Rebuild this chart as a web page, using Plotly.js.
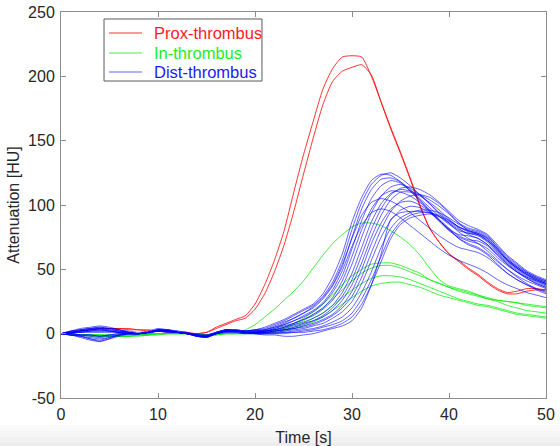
<!DOCTYPE html>
<html>
<head>
<meta charset="utf-8">
<script src="https://cdn.plot.ly/plotly-3.0.1.min.js"></script>
<style>html,body{margin:0;padding:0;background:#fff;}#chart{width:560px;height:446px;}</style>
</head>
<body>
<div id="chart"></div>
<script>
// Time axis (s)
const time = [0,1,2,3,4,5,6,7,8,9,10,11,12,13,14,15,16,17,18,19,20,21,22,23,24,25,26,27,28,29,30,31,32,33,34,35,36,37,38,39,40,41,42,43,44,45,46,47,48,49,50];

// Prox-thrombus (red)
const prox1 = [0,1,2,3,4,4,4,4,3,3,2,2,1,1,0,1,5,8,11,14,23,38,57,80,110,139,165,190,206,215,216,215,200,180,160,141,121,100,82,71,62,57,51,46,40,35,32,33,35,35,34];
const prox2 = [0,1,2,3,3,4,4,3,3,2,2,1,1,0,0,1,4,7,10,12,19,31,48,69,95,124,152,178,196,204,207,209,201,180,159,140,120,99,82,71,62,56,50,45,39,34,31,31,33,34,34];

// In-thrombus (green)
const in1 = [0,-1,-1,-1,-1,-1,-2,-2,-2,-1,-1,0,0,0,-1,-1,0,0,1,3,7,13,19,26,33,41,51,61,70,77,83,86,86,84,80,75,69,61,51,42,37,35,33,30,27,26,25,24,23,22,21];
const in2 = [0,-1,-1,-1,-2,-2,-2,-2,-1,-1,0,0,0,0,-1,-1,0,0,0,1,1,2,3,5,8,12,17,23,30,38,45,50,54,55,55,53,50,47,42,39,36,34,32,30,28,26,25,24,22,21,20];
const in3 = [0,-1,-1,-2,-2,-2,-2,-1,-1,-1,0,0,0,0,-1,-1,0,0,0,0,1,1,2,4,7,10,15,20,27,34,41,47,51,53,53,51,48,45,42,39,36,33,31,29,27,25,22,20,18,17,16];
const in4 = [0,0,-1,-1,-1,-2,-2,-2,-1,-1,0,0,0,0,-1,-1,-1,0,0,0,0,1,2,3,5,8,12,16,22,28,34,39,43,45,45,44,42,39,36,33,30,27,25,23,22,20,18,16,15,14,13];
const in5 = [0,-1,-1,-1,-1,-1,-1,-1,-1,0,0,0,0,0,0,-1,-1,0,0,0,0,0,1,2,4,6,9,13,18,23,28,33,37,39,40,40,38,36,33,30,28,26,24,22,21,19,17,15,14,13,12];

// Dist-thrombus (blue)
const dist1  = [0,2,4,5,6,5,3,1,0,1,3,3,1,0,-1,-1,1,3,3,2,3,5,8,11,15,19,23,31,44,62,87,106,119,124,123,118,111,103,95,87,80,75,72,70,66,59,53,48,44,41,38];
const dist2  = [0,1,3,4,5,4,3,1,0,1,2,3,2,1,-1,-2,0,2,3,2,3,4,7,10,14,18,22,29,40,57,81,102,116,123,125,121,115,108,101,94,88,83,80,78,74,66,58,52,47,43,40];
const dist3  = [0,-1,-3,-5,-6,-4,-1,0,0,1,3,2,1,0,-2,-2,1,3,2,1,2,3,6,9,12,16,20,27,37,52,75,97,112,120,121,118,112,105,98,91,85,80,78,76,71,63,56,50,45,41,38];
const dist4  = [0,2,3,4,4,4,3,2,1,2,4,3,1,0,0,-1,1,3,2,2,3,3,5,8,12,16,21,28,38,54,74,92,102,105,103,99,94,88,82,76,71,67,65,63,59,53,47,42,38,35,33];
const dist5  = [0,1,2,3,3,2,1,1,0,1,3,2,1,0,-2,-3,0,3,3,2,2,2,4,7,10,14,18,24,34,49,68,84,94,97,95,90,84,78,72,66,61,57,54,51,47,42,38,35,32,30,28];
const dist6  = [0,1,1,2,2,2,1,0,0,1,2,2,1,0,-1,-2,0,2,2,1,2,3,5,7,10,13,17,23,32,45,66,88,105,115,119,117,111,104,96,88,81,77,76,74,69,61,54,48,43,39,36];
const dist7  = [0,2,3,4,5,4,2,1,0,1,3,2,1,0,-1,-2,1,3,2,2,2,2,3,5,8,11,15,20,28,41,60,81,97,107,111,110,107,102,96,89,82,76,73,72,68,61,54,48,43,39,36];
const dist8  = [0,-1,-2,-4,-5,-3,-1,0,0,1,2,2,1,0,-2,-3,0,2,2,1,1,2,4,6,8,11,14,19,26,37,54,75,94,107,114,116,113,108,101,93,86,81,78,77,73,65,57,51,46,42,39];
const dist9  = [0,0,1,1,1,1,1,0,0,0,2,2,1,0,-1,-2,0,2,2,1,1,2,3,5,7,9,12,16,22,32,47,67,87,101,109,112,111,108,104,99,93,86,82,80,76,67,59,53,48,44,41];
const dist10 = [0,1,2,3,4,3,2,1,0,1,2,2,1,0,-1,-2,0,2,2,1,1,1,2,3,5,7,10,14,20,29,42,61,81,97,108,113,114,112,108,102,95,88,84,81,77,69,61,55,49,45,42];
const dist11 = [0,0,-1,-2,-3,-2,-1,0,0,1,2,2,1,0,-1,-2,0,2,2,1,1,2,3,4,6,8,10,13,18,26,38,55,75,92,104,110,110,107,102,96,89,83,80,78,74,66,58,52,47,43,40];
const dist12 = [0,-1,-2,-4,-6,-4,-2,0,0,1,2,2,1,0,-2,-2,1,2,2,1,1,1,2,3,4,6,8,11,15,22,33,50,70,86,97,102,103,100,95,88,81,74,69,66,61,54,47,42,38,34,31];
const dist13 = [0,1,2,2,3,2,1,0,0,1,2,2,1,0,-1,-2,0,2,2,1,1,1,2,3,4,5,7,10,14,20,29,44,63,81,95,103,107,108,106,101,94,86,80,77,72,64,57,51,46,42,39];
const dist14 = [0,0,-1,-1,-2,-1,0,0,0,1,2,1,1,0,-1,-2,0,1,1,0,1,1,1,2,3,4,6,8,12,17,25,39,57,75,88,96,99,98,94,88,81,74,70,67,62,56,50,45,41,38,35];
const dist15 = [0,1,1,2,2,2,1,0,0,1,3,2,1,0,-2,-3,0,2,2,1,0,0,1,1,2,3,4,6,9,13,20,32,48,67,82,90,94,96,96,94,90,85,81,79,75,68,60,54,48,44,41];
const dist16 = [0,-1,-2,-3,-4,-3,-1,0,0,1,2,2,1,0,-1,-2,0,2,2,1,0,0,0,1,1,2,3,5,7,10,16,27,42,60,77,87,92,94,94,92,88,83,79,77,72,65,57,51,46,42,39];
const dist17 = [0,0,-1,-1,-2,-1,0,0,0,1,2,1,1,0,-1,-2,0,1,1,0,0,0,0,0,1,1,2,3,5,8,13,23,38,56,74,85,90,92,93,91,87,82,77,74,69,62,55,49,44,40,37];
const dist18 = [0,1,2,3,4,3,2,1,0,1,3,3,2,1,-1,-2,0,2,2,1,0,-1,-1,-2,-2,-1,0,2,4,6,10,20,38,62,89,94,95,95,94,91,86,79,74,70,64,57,50,44,39,35,32];

const proxSeries = [prox1, prox2];
const inSeries = [in1, in2, in3, in4, in5];
const distSeries = [dist1,dist2,dist3,dist4,dist5,dist6,dist7,dist8,dist9,dist10,dist11,dist12,dist13,dist14,dist15,dist16,dist17,dist18];

const groupNames = ['Prox-thrombus', 'In-thrombus', 'Dist-thrombus'];
const xTicks = [0,10,20,30,40,50];
const yTicks = [-50,0,50,100,150,200,250];

const FONT = 'Liberation Sans, Arial, Helvetica, sans-serif';
const styles = [
  {color: 'rgba(255,0,0,0.8)', legendColor: '#ff1a1a'},
  {color: 'rgba(0,235,0,0.75)', legendColor: '#22ee22'},
  {color: 'rgba(0,0,255,0.62)', legendColor: '#1a1aff'}
];

const traces = [];
[proxSeries, inSeries, distSeries].forEach((group, gi) => {
  group.forEach((ys) => {
    traces.push({
      x: time, y: ys, type: 'scatter', mode: 'lines',
      line: {color: styles[gi].color, width: 1, shape: 'spline', smoothing: 0.6},
      name: groupNames[gi],
      showlegend: false,
      hoverinfo: 'skip'
    });
  });
});

const axisCommon = {
  showline: true, linecolor: '#8c8c8c', linewidth: 1, mirror: 'ticks',
  ticks: 'inside', ticklen: 5, tickcolor: '#8c8c8c', tickwidth: 1,
  showgrid: false, zeroline: false, ticklabelstandoff: 2,
  tickfont: {family: FONT, size: 16, color: '#262626'}
};

// faint grey band at the bottom of the picture
const bandGreys = ['#fbfbfb','#f6f6f6','#f1f1f1','#ececec'];
const shapes = bandGreys.map((c, i) => ({
  type: 'rect', xref: 'paper', yref: 'paper', layer: 'below',
  x0: -0.2, x1: 1.1,
  y0: -(27 + i * 6) / 386, y1: -(33 + i * 6) / 386 - (i === 3 ? 0.05 : 0),
  fillcolor: c, line: {width: 0}
}));

// legend box (MATLAB style), drawn in paper coordinates
const legBox = {x0: 0.0887, x1: 0.4144, y0: 0.8212, y1: 0.9819};
const legRows = [0.9456, 0.8938, 0.8446];
shapes.push({type: 'rect', xref: 'paper', yref: 'paper', x0: legBox.x0, x1: legBox.x1, y0: legBox.y0, y1: legBox.y1,
  fillcolor: '#ffffff', line: {color: '#5a5a5a', width: 1}});
const annotations = [];
groupNames.forEach((name, gi) => {
  shapes.push({type: 'line', xref: 'paper', yref: 'paper', x0: 0.099, x1: 0.167, y0: legRows[gi], y1: legRows[gi],
    line: {color: styles[gi].color, width: 1.2}});
  annotations.push({xref: 'paper', yref: 'paper', x: 0.1876, y: legRows[gi], xanchor: 'left', yanchor: 'middle',
    showarrow: false, text: name, font: {family: FONT, size: 16.5, color: styles[gi].legendColor}});
});

const layout = {
  width: 560, height: 446,
  margin: {l: 61, r: 14, t: 12, b: 48, pad: 0},
  paper_bgcolor: '#ffffff', plot_bgcolor: '#ffffff',
  font: {family: FONT, size: 15, color: '#262626'},
  showlegend: false,
  shapes: shapes,
  annotations: annotations,
  xaxis: Object.assign({}, axisCommon, {
    range: [0, 50], tickvals: xTicks, ticktext: xTicks.map(String),
    title: {text: 'Time [s]', font: {family: FONT, size: 16, color: '#262626'}, standoff: 12}
  }),
  yaxis: Object.assign({}, axisCommon, {
    range: [-50, 250], tickvals: yTicks, ticktext: yTicks.map(String),
    title: {text: 'Attenuation [HU]', font: {family: FONT, size: 16, color: '#262626'}, standoff: 4}
  })
};

Plotly.newPlot('chart', traces, layout, {staticPlot: true, displayModeBar: false});
</script>
</body>
</html>
